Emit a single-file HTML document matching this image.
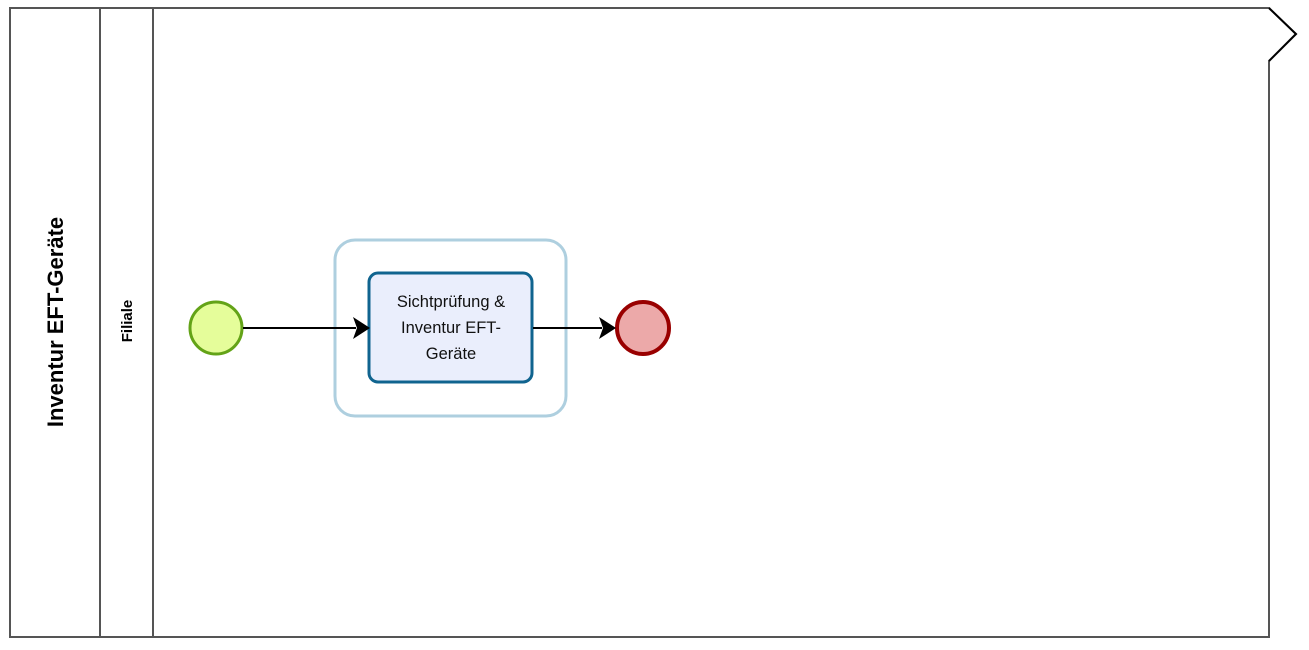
<!DOCTYPE html>
<html><head><style>body{margin:0;background:#fff}svg{display:block}</style></head><body>
<svg width="1309" height="650" xmlns="http://www.w3.org/2000/svg">
<path d="M10,8 L1269,8 L1296,34 L1269,61 L1269,637 L10,637 Z" fill="#fff" stroke="#555" stroke-width="2"/>
<path d="M1269,8 L1296,34 L1269,61" fill="none" stroke="#000" stroke-width="2"/>
<line x1="100" y1="8" x2="100" y2="637" stroke="#555" stroke-width="2"/>
<line x1="153" y1="8" x2="153" y2="637" stroke="#555" stroke-width="2"/>
<text transform="translate(63,322) rotate(-90)" text-anchor="middle" font-family="Liberation Sans, sans-serif" font-size="22" font-weight="bold">Inventur EFT-Geräte</text>
<text transform="translate(132,321) rotate(-90)" text-anchor="middle" font-family="Liberation Sans, sans-serif" font-size="15" font-weight="bold">Filiale</text>
<rect x="335" y="240" width="231" height="176" rx="20" fill="#fff" stroke="#aecfdf" stroke-width="3"/>
<rect x="369" y="273" width="163" height="109" rx="9" fill="#eaeefc" stroke="#10648f" stroke-width="3"/>
<text font-family="Liberation Sans, sans-serif" font-size="16.5" text-anchor="middle" fill="#111"><tspan x="451" y="307">Sichtprüfung &amp;</tspan><tspan x="451" y="333">Inventur EFT-</tspan><tspan x="451" y="359">Geräte</tspan></text>
<circle cx="216" cy="328" r="26" fill="#e5fd9a" stroke="#63a317" stroke-width="3"/>
<circle cx="643" cy="328" r="26" fill="#eca9a9" stroke="#990000" stroke-width="4"/>
<line x1="243" y1="328" x2="356" y2="328" stroke="#000" stroke-width="2"/>
<path d="M370,328 L353,317 L357,328 L353,339 Z" fill="#000"/>
<line x1="533" y1="328" x2="602" y2="328" stroke="#000" stroke-width="2"/>
<path d="M616,328 L599,317 L603,328 L599,339 Z" fill="#000"/>
</svg>
</body></html>
